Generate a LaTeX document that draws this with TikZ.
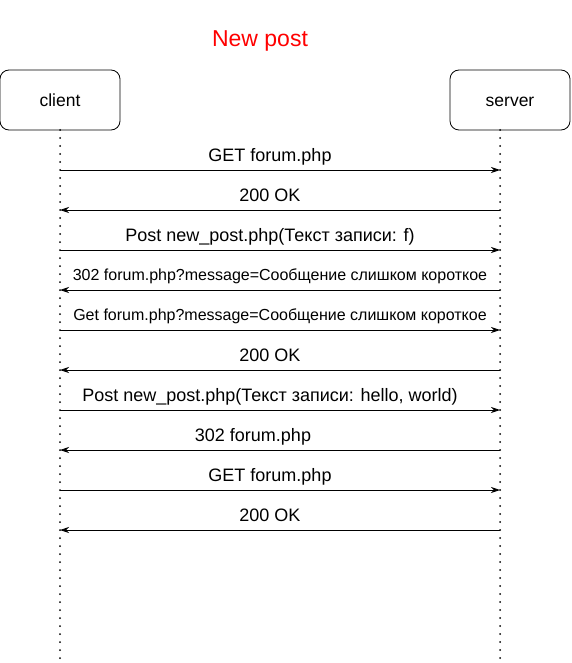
\documentclass[tikz,border=0pt]{standalone}
\usepackage{fontspec}
\setmainfont{Liberation Sans}
\usetikzlibrary{arrows.meta}
\begin{document}
\begin{tikzpicture}[x=1pt,y=-1pt,
  actor/.style={draw,rounded corners=9pt,minimum width=120pt,minimum height=60pt,line width=0.8pt,font=\fontsize{17.5}{20}\selectfont,text height=14.5pt,text depth=1.5pt},
  lifeline/.style={line width=2pt,line cap=round,dash pattern=on 0pt off 8pt},
  msg/.style={-{Stealth[length=9pt,width=6pt]},line width=0.8pt},
  lbl/.style={font=\fontsize{18}{21}\selectfont,inner sep=0pt,text height=13pt,text depth=4pt},
  lbls/.style={font=\fontsize{16}{19}\selectfont,inner sep=0pt,text height=11.5pt,text depth=3.5pt}]
\useasboundingbox (0,0) rectangle (571,663);
\node[text=red,font=\fontsize{23}{26}\selectfont] (title) at (260,41) {New post};
\node[actor] (client) at (60,100) {client};
\node[actor] (server) at (510,100) {server};
\coordinate (ctop) at (60,130);
\coordinate (stop) at (500,130);
\coordinate (cend) at (60,663);
\coordinate (send) at (500,663);
\draw[lifeline] (ctop) -- (cend);
\draw[lifeline] (stop) -- (send);
\foreach \i/\y in {1/170,2/210,3/250,4/290,5/330,6/370,7/410,8/450,9/490,10/530}{
  \coordinate (c\i) at (60,\y);
  \coordinate (s\i) at (500,\y);
}
\draw[msg] (c1) -- (s1);
\draw[msg] (s2) -- (c2);
\draw[msg] (c3) -- (s3);
\draw[msg] (s4) -- (c4);
\draw[msg] (c5) -- (s5);
\draw[msg] (s6) -- (c6);
\draw[msg] (c7) -- (s7);
\draw[msg] (s8) -- (c8);
\draw[msg] (c9) -- (s9);
\draw[msg] (s10) -- (c10);
\node[lbl] (l1) at (270,157) {GET forum.php};
\node[lbl] (l2) at (270,197) {200 OK};
\node[lbl] (l3) at (270,237) {Post new\_post.php(Текст записи: f)};
\node[lbls] (l4) at (280,276) {302 forum.php?message=Сообщение слишком короткое};
\node[lbls] (l5) at (280,316) {Get forum.php?message=Сообщение слишком короткое};
\node[lbl] (l6) at (270,357) {200 OK};
\node[lbl] (l7) at (270,397) {Post new\_post.php(Текст записи: hello, world)};
\node[lbl] (l8) at (253,437) {302 forum.php};
\node[lbl] (l9) at (270,477) {GET forum.php};
\node[lbl] (l10) at (270,517) {200 OK};
\end{tikzpicture}
\end{document}
